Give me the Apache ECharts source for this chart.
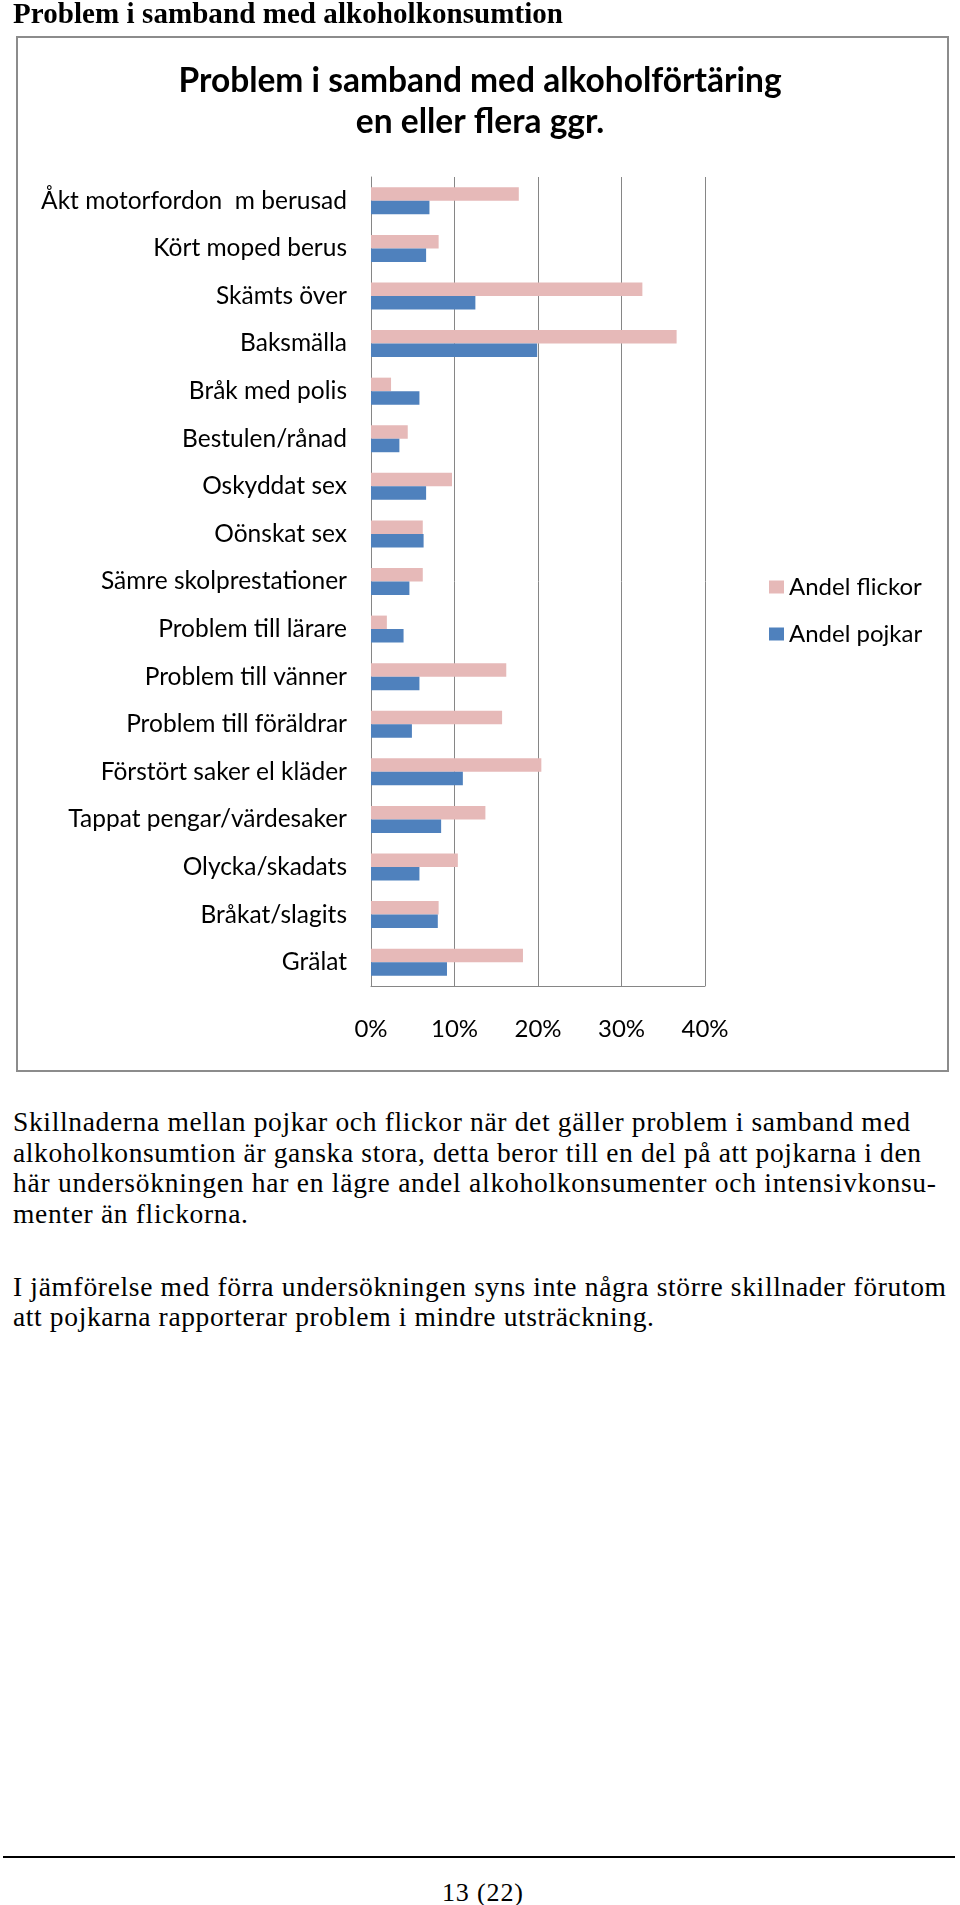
<!DOCTYPE html>
<html>
<head>
<meta charset="utf-8">
<script src="https://cdn.jsdelivr.net/npm/echarts/dist/echarts.min.js"></script>
<style>
  html, body { margin: 0; padding: 0; background: #fff; }
  #page { position: relative; width: 960px; height: 1905px; overflow: hidden; background: #fff; }
  .t { position: absolute; white-space: nowrap; color: #000; font-family: "Liberation Serif", "DejaVu Serif", serif; }
  #box { position: absolute; left: 16px; top: 36px; width: 933px; height: 1036px; border: 2px solid #8c8c8c; box-sizing: border-box; }
  #chart { position: absolute; left: 0; top: 0; width: 960px; height: 1080px; }
  #rule { position: absolute; left: 3px; top: 1856px; width: 952px; height: 2px; background: #000; }
</style>
</head>
<body>
<div id="page">
  <div id="box"></div>
  <div id="chart"></div>
  <div id="pageTitle" class="t" style="left:13px; top:-1px; font-size:29px; line-height:29px; font-weight:bold;">Problem i samband med alkoholkonsumtion</div>
  <div id="texts"></div>
  <div id="rule"></div>
  <div id="pageNo" class="t" style="left:442px; top:1880px; font-size:26px; line-height:26px;">13 (22)</div>
</div>
<script>
// ---- data ----
const categories = [
  "Åkt motorfordon  m berusad",
  "Kört moped berus",
  "Skämts över",
  "Baksmälla",
  "Bråk med polis",
  "Bestulen/rånad",
  "Oskyddat sex",
  "Oönskat sex",
  "Sämre skolprestationer",
  "Problem till lärare",
  "Problem till vänner",
  "Problem till föräldrar",
  "Förstört saker el kläder",
  "Tappat pengar/värdesaker",
  "Olycka/skadats",
  "Bråkat/slagits",
  "Grälat"
];
const andelFlickor = [17.7, 8.1, 32.5, 36.6, 2.4, 4.4, 9.7, 6.2, 6.2, 1.9, 16.2, 15.7, 20.4, 13.7, 10.4, 8.1, 18.2];
const andelPojkar  = [7.0, 6.6, 12.5, 19.9, 5.8, 3.4, 6.6, 6.3, 4.6, 3.9, 5.8, 4.9, 11.0, 8.4, 5.8, 8.0, 9.1];
const seriesNames = ["Andel flickor", "Andel pojkar"];
const axisMax = 40;
const axisStep = 10;
const chartTitle = "Problem i samband med alkoholförtäring\nen eller flera ggr.";

const paragraphLines = [
  ["Skillnaderna mellan pojkar och flickor när det gäller problem i samband med", 910],
  ["alkoholkonsumtion är ganska stora, detta beror till en del på att pojkarna i den", 921],
  ["här undersökningen har en lägre andel alkoholkonsumenter och intensivkonsu-", 936],
  ["menter än flickorna.", 248],
  ["I jämförelse med förra undersökningen syns inte några större skillnader förutom", 946],
  ["att pojkarna rapporterar problem i mindre utsträckning.", 654]
];
const lineBaselines = [1131.5, 1162, 1192.5, 1223, 1296, 1326.5];

// ---- page text ----
const FS = 27.5, LH = 30;
const textsEl = document.getElementById('texts');
paragraphLines.forEach((ln, i) => {
  const d = document.createElement('div');
  d.className = 't';
  d.style.left = '13px';
  d.style.fontSize = FS + 'px';
  d.style.lineHeight = LH + 'px';
  d.style.top = (lineBaselines[i] - (LH / 2 + 0.3375 * FS)) + 'px';
  d.textContent = ln[0];
  textsEl.appendChild(d);
  d.dataset.right = ln[1];
});
function fit(el, right) {
  const left = parseFloat(el.style.left);
  const w = el.getBoundingClientRect().width;
  const n = el.textContent.length;
  el.style.letterSpacing = ((right - left - w) / Math.max(1, n - 1)) + 'px';
}
document.querySelectorAll('#texts .t').forEach(el => fit(el, parseFloat(el.dataset.right)));
fit(document.getElementById('pageTitle'), 563);
fit(document.getElementById('pageNo'), 523);

// ---- chart ----
const chart = echarts.init(document.getElementById('chart'), null, { renderer: 'canvas' });
const gridColor = '#868686';
chart.setOption({
  animation: false,
  backgroundColor: 'transparent',
  title: {
    text: chartTitle,
    left: 'center',
    top: 61,
    padding: 0,
    textStyle: { fontFamily: 'Lato', fontWeight: 'bold', fontSize: 33.5, lineHeight: 41, color: '#000' }
  },
  legend: {
    orient: 'vertical',
    left: 769,
    top: 575,
    padding: 0,
    itemWidth: 15,
    itemHeight: 13,
    itemGap: 23,
    icon: 'rect',
    data: seriesNames,
    textStyle: { fontFamily: 'Lato', fontSize: 24, lineHeight: 23, color: '#000' }
  },
  grid: { left: 371, top: 177, width: 334, height: 809, containLabel: false },
  xAxis: {
    type: 'value',
    min: 0,
    max: axisMax,
    interval: axisStep,
    axisLine: { show: true, lineStyle: { color: gridColor, width: 1 } },
    axisTick: { show: false },
    splitLine: { show: true, lineStyle: { color: gridColor, width: 1 } },
    axisLabel: { formatter: v => v + '%', fontFamily: 'Lato', fontSize: 24, color: '#000', margin: 31 }
  },
  yAxis: {
    type: 'category',
    inverse: true,
    data: categories,
    axisLine: { show: true, lineStyle: { color: gridColor, width: 1 } },
    axisTick: { show: false },
    splitLine: { show: false },
    axisLabel: { fontFamily: 'Lato', fontSize: 24.5, color: '#000', margin: 24 }
  },
  series: [
    { name: seriesNames[0], type: 'bar', data: andelFlickor, barWidth: 13.5, barGap: '0%', itemStyle: { color: '#e6b9b8' } },
    { name: seriesNames[1], type: 'bar', data: andelPojkar, barWidth: 13.5, barGap: '0%', itemStyle: { color: '#4f81bd' } }
  ]
});
</script>
</body>
</html>
